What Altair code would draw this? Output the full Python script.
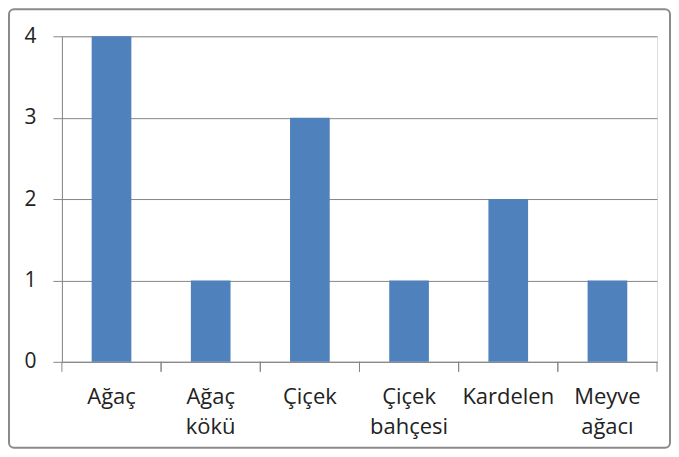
import altair as alt
import pandas as pd

categories = ["Ağaç", "Ağaç kökü", "Çiçek", "Çiçek bahçesi", "Kardelen", "Meyve ağacı"]
values = [4, 1, 3, 1, 2, 1]
y_ticks = [0, 1, 2, 3, 4]

df = pd.DataFrame({"cat": categories, "val": values})

FONT = "Open Sans"
GRID = "#868686"
TXT = "#222222"
W, H = 596, 326

xscale = alt.Scale(domain=categories, paddingInner=0, paddingOuter=0)
yscale = alt.Scale(domain=[0, 4], nice=False)

base = alt.Chart(df)

bars = base.mark_bar(color="#4F81BD", width=alt.RelativeBandSize(0.4)).encode(
    x=alt.X("cat:N", scale=xscale, sort=categories,
            axis=alt.Axis(title=None, labelAngle=0, ticks=False, tickSize=0,
                          domain=True, domainColor=GRID, domainWidth=1,
                          labelFont=FONT, labelFontSize=22, labelColor=TXT,
                          labelPadding=25, labelLineHeight=30,
                          labelExpr="split(datum.label, ' ')",
                          labelBaseline="top")),
    y=alt.Y("val:Q", scale=yscale,
            axis=alt.Axis(title=None, values=y_ticks, grid=True, gridColor=GRID,
                          gridWidth=1, domain=True, domainColor=GRID,
                          ticks=True, tickSize=9, tickColor=GRID,
                          labelFont=FONT, labelFontSize=21, labelColor=TXT,
                          labelPadding=17, format="d")),
)

ticks_left = base.mark_rule(color=GRID, strokeWidth=1).encode(
    x=alt.X("cat:N", scale=xscale, sort=categories, bandPosition=0),
    y=alt.value(H), y2=alt.value(H + 10),
)
ticks_right = base.mark_rule(color=GRID, strokeWidth=1).encode(
    x=alt.X("cat:N", scale=xscale, sort=categories, bandPosition=1),
    y=alt.value(H), y2=alt.value(H + 10),
)

frame = alt.Chart(alt.Data(values=[{"f": 1}])).mark_rect(
    fill=None, stroke="#8a8a8a", strokeWidth=2, cornerRadius=5, clip=False
).encode(
    x=alt.value(-53), x2=alt.value(609),
    y=alt.value(-27), y2=alt.value(412),
)

chart = alt.layer(frame, bars, ticks_left, ticks_right).properties(
    width=W, height=H,
    autosize=alt.AutoSizeParams(type="none"),
    padding={"left": 54, "top": 28, "right": 14, "bottom": 87},
).configure_view(stroke=None).configure(background="white")

chart.save("out.html", embed_options={"renderer": "svg", "actions": False})
